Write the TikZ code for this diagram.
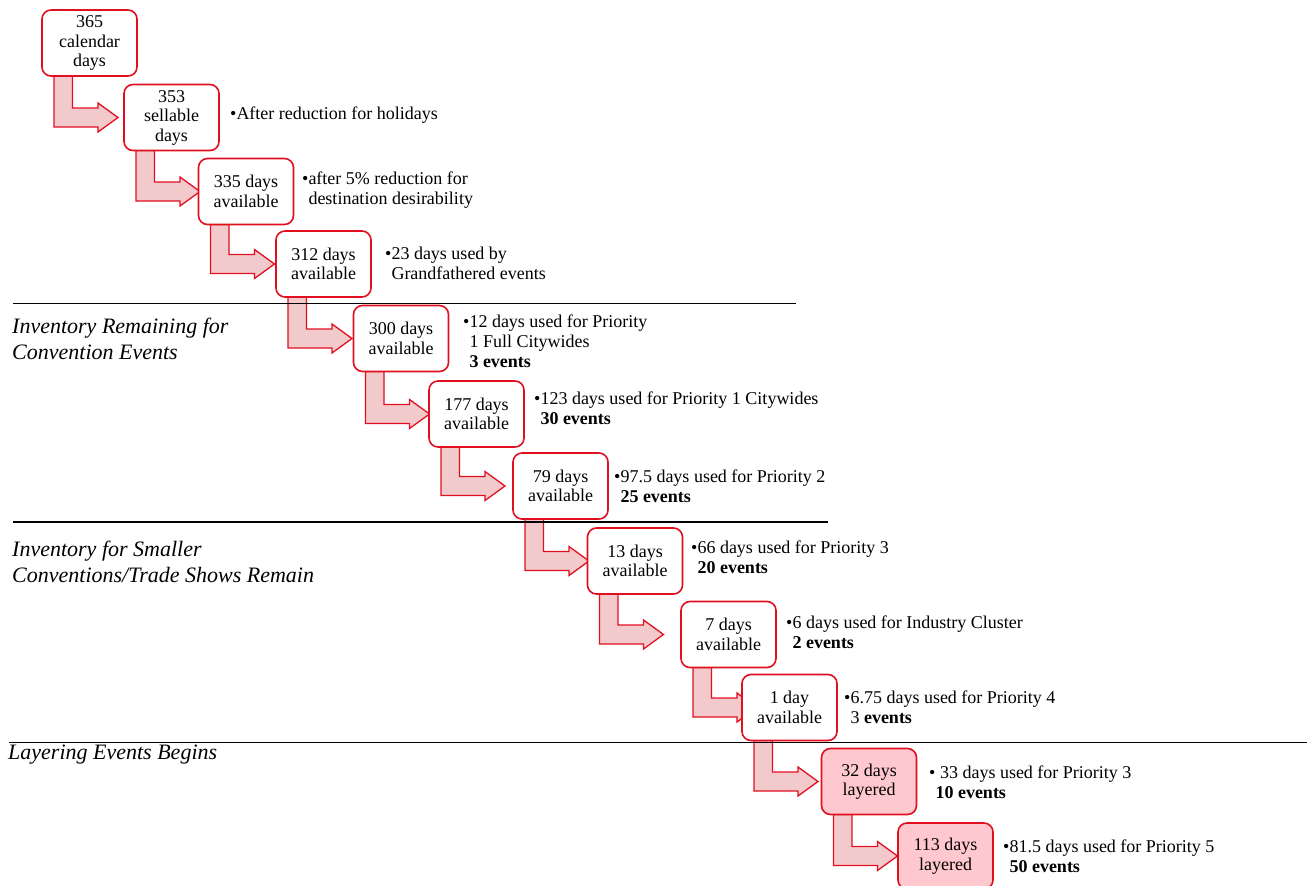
\documentclass[tikz,border=0pt]{standalone}
\usepackage{fontspec}
\setmainfont{Liberation Serif}
\usetikzlibrary{calc}
\definecolor{rline}{RGB}{224,16,32}
\definecolor{afill}{RGB}{243,202,204}
\definecolor{bfill}{RGB}{255,199,206}
\pgfdeclarelayer{bg}
\pgfdeclarelayer{mid}
\pgfsetlayers{bg,mid,main}
\tikzset{
  box/.style={draw=rline, line width=1.6pt, rounded corners=9pt, fill=white,
    minimum width=95pt, minimum height=66pt, inner sep=1pt, outer sep=0pt,
    align=center, font=\fontsize{18}{19.5}\selectfont},
  lbox/.style={box, fill=bfill},
  desc/.style={anchor=base west, inner sep=0pt, font=\fontsize{18}{20}\selectfont},
  sec/.style={anchor=base west, inner sep=0pt, font=\fontsize{22}{26}\selectfont\itshape},
  arr/.style={draw=rline, fill=afill, line width=1.3pt, line join=miter},
  sepline/.style={draw=black, line width=1.5pt}
}
\newcommand\stepArrow[2]{%
  \path[arr] let \p1=(#1.south west), \p2=(#2.west) in
    ({\x1+12pt},\y1) -- ({\x1+30.5pt},\y1) -- ({\x1+30.5pt},{\y2+9.5pt})
    -- ({\x1+56pt},{\y2+9.5pt}) -- ({\x1+56pt},{\y2+14.5pt}) -- ({\x1+76pt},\y2)
    -- ({\x1+56pt},{\y2-14.5pt}) -- ({\x1+56pt},{\y2-9.5pt})
    -- ({\x1+12pt},{\y2-9.5pt}) -- cycle;}
\newcommand\dtab[1]{\begin{tabular}[t]{@{}l@{}l@{}}#1\end{tabular}}
\begin{document}
\begin{tikzpicture}[x=1pt,y=-1pt]
\useasboundingbox (0,0) rectangle (1307,886);
% boxes
\node[box]  (b1)  at (89.5,43)    {365\\calendar\\days};
\node[box]  (b2)  at (171.5,117.5){353\\sellable\\days};
\node[box]  (b3)  at (246,191.5)  {335 days\\available};
\node[box]  (b4)  at (323.5,264)  {312 days\\available};
\node[box]  (b5)  at (401,338.5)  {300 days\\available};
\node[box]  (b6)  at (476.5,414)  {177 days\\available};
\node[box]  (b7)  at (560.5,486)  {79 days\\available};
\node[box]  (b8)  at (635,561)    {13 days\\available};
\node[box]  (b9)  at (728.5,634.5){7 days\\available};
\node[box]  (b10) at (789.5,707.5){1 day\\available};
\node[lbox] (b11) at (869,781.5)  {32 days\\layered};
\node[lbox] (b12) at (945.5,856)  {113 days\\layered};
% arrows
\begin{pgfonlayer}{bg}
\stepArrow{b1}{b2}
\stepArrow{b2}{b3}
\stepArrow{b3}{b4}
\stepArrow{b4}{b5}
\stepArrow{b5}{b6}
\stepArrow{b6}{b7}
\stepArrow{b7}{b8}
\stepArrow{b8}{b9}
\stepArrow{b9}{b10}
\stepArrow{b10}{b11}
\stepArrow{b11}{b12}
\end{pgfonlayer}
% separator lines
\begin{pgfonlayer}{mid}
\coordinate (l1a) at (13,303.5);  \coordinate (l1b) at (796,303.5);
\coordinate (l2a) at (13,522);    \coordinate (l2b) at (828,522);
\coordinate (l3a) at (9,742.5);   \coordinate (l3b) at (1307,742.5);
\draw[sepline] (l1a) -- (l1b);
\draw[sepline] (l2a) -- (l2b);
\draw[sepline] (l3a) -- (l3b);
\end{pgfonlayer}
% section labels
\node[sec] (s1) at (12,333) {\begin{tabular}[t]{@{}l@{}}Inventory Remaining for\\Convention Events\end{tabular}};
\node[sec] (s2) at (12,556) {\begin{tabular}[t]{@{}l@{}}Inventory for Smaller\\Conventions/Trade Shows Remain\end{tabular}};
\node[sec] (s3) at (8,759) {Layering Events Begins};
% descriptions
\node[desc] (d2)  at (230,119)  {\dtab{•&After reduction for holidays}};
\node[desc] (d3)  at (302,184)  {\dtab{•&after 5\% reduction for\\&destination desirability}};
\node[desc] (d4)  at (385,259)  {\dtab{•&23 days used by\\&Grandfathered events}};
\node[desc] (d5)  at (463,327)  {\dtab{•&12 days used for Priority\\&1 Full Citywides\\&\textbf{3 events}}};
\node[desc] (d6)  at (534,404)  {\dtab{•&123 days used for Priority 1 Citywides\\&\textbf{30 events}}};
\node[desc] (d7)  at (614,482)  {\dtab{•&97.5 days used for Priority 2\\&\textbf{25 events}}};
\node[desc] (d8)  at (691,553)  {\dtab{•&66 days used for Priority 3\\&\textbf{20 events}}};
\node[desc] (d9)  at (786,628)  {\dtab{•&6 days used for Industry Cluster\\&\textbf{2 events}}};
\node[desc] (d10) at (844,703)  {\dtab{•&6.75 days used for Priority 4\\&3 \textbf{events}}};
\node[desc] (d11) at (929,778)  {\dtab{•&\ 33 days used for Priority 3\\&\textbf{10 events}}};
\node[desc] (d12) at (1003,852) {\dtab{•&81.5 days used for Priority 5\\&\textbf{50 events}}};
\end{tikzpicture}
\end{document}
